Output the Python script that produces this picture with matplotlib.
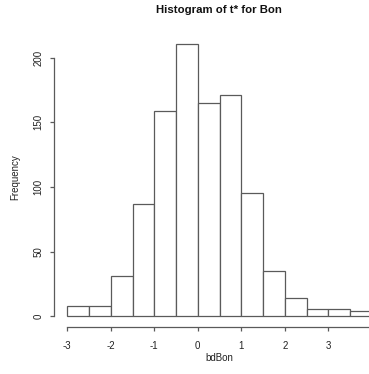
import matplotlib

matplotlib.use("Agg")
import matplotlib.pyplot as plt

# bin edges and counts
bin_edges = [-3.0, -2.5, -2.0, -1.5, -1.0, -0.5, 0.0, 0.5, 1.0, 1.5, 2.0, 2.5, 3.0, 3.5, 4.0]
counts = [8, 8, 31, 87, 159, 211, 165, 171, 95, 35, 14, 6, 6, 4]
x_ticks = [-3, -2, -1, 0, 1, 2, 3, 4]
y_ticks = [0, 50, 100, 150, 200]

plt.rcParams["font.family"] = ["Liberation Sans", "DejaVu Sans"]
plt.rcParams["axes.unicode_minus"] = False

W, H = 369, 374
fig = plt.figure(figsize=(W / 100, H / 100), dpi=100)

# plot region in pixels (R style, extends past the right edge of the image)
left_px, right_px = 53.5, 384.0
top_px, bottom_px = 32.6, 327.2
ax = fig.add_axes([left_px / W, 1 - bottom_px / H,
                   (right_px - left_px) / W, (bottom_px - top_px) / H])

edge = "#5a5a5a"
widths = [b - a for a, b in zip(bin_edges[:-1], bin_edges[1:])]
ax.bar(bin_edges[:-1], counts, width=widths, align="edge",
       facecolor="white", edgecolor=edge, linewidth=0.9)

ax.set_xlim(-3.317, 4.28)
ax.set_ylim(-8.44, 219.44)

for side in ("top", "right"):
    ax.spines[side].set_visible(False)
for side in ("left", "bottom"):
    ax.spines[side].set_color(edge)
    ax.spines[side].set_linewidth(0.9)
ax.spines["bottom"].set_bounds(x_ticks[0], x_ticks[-1])
ax.spines["left"].set_bounds(y_ticks[0], y_ticks[-1])

ax.set_xticks(x_ticks)
ax.set_yticks(y_ticks)
ax.set_yticklabels([str(v) for v in y_ticks], rotation=90, va="center")
ax.tick_params(axis="both", direction="out", length=3, width=0.9,
               color=edge, labelsize=7, labelcolor="#222222")
ax.tick_params(axis="x", pad=7)
ax.tick_params(axis="y", pad=4)

fig.text(219 / W, 1 - 10 / H, "Histogram of t* for Bon", ha="center", va="center",
         fontsize=8.2, fontweight="bold", color="#111111")
fig.text(219 / W, 1 - 358 / H, "bdBon", ha="center", va="center",
         fontsize=7, color="#222222")
fig.text(15 / W, 1 - 177 / H, "Frequency", ha="center", va="center",
         rotation=90, fontsize=7, color="#222222")

fig.savefig("out.png", dpi=100)
